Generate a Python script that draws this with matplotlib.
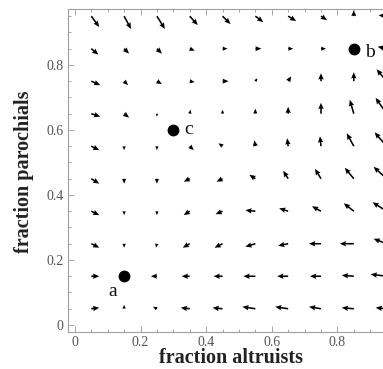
import numpy as np
import matplotlib
matplotlib.use("Agg")
import matplotlib.pyplot as plt
from matplotlib.ticker import MultipleLocator, FixedLocator

# grid of the vector field (same for both axes)
GRID = [0.05, 0.15, 0.25, 0.35, 0.45, 0.55, 0.65, 0.75, 0.85, 0.95]

# field components, rows from top (0.95) to bottom (0.05)
# units: roughly 1/328 of an axis unit; nan where a dot hides the arrow
U = [
    [8, 7, 8, 8, 8, 8, 8, 6, 0, -8],
    [7, 5, 5, 5, 5, 6, 5, 5, np.nan, -9],
    [9, 4, 5, 5, 6, 2, 3, 0, 0, -10],
    [9, 5, 0, 1, 0, 0, 0, 0, -4, -11],
    [8, 0, 0, 4, -4, -1, -1, -1, -7, -12],
    [8, 0, 0, -6, -6, -6, -5, -6, -9, -13],
    [8, 0, 0, -6, -7, -10, -9, -9, -10, -14],
    [8, 0, -1, -7, -8, -10, -10, -12, -14, -13],
    [8, np.nan, -6, -8, -9, -12, -11, -11, -12, -16],
    [8, 0, -4, -9, -10, -13, -13, -12, -12, -11],
]
V = [
    [-11, -13, -13, -9, -8, -6, -5, -4, 6, 1],
    [-6, -5, -5, -2, 0, 0, 0, 0, np.nan, 2],
    [-4, -4, -3, -1, 0, 3, 5, 8, 9, 12],
    [-3, -4, -3, 4, 4, 5, 7, 11, 14, 16],
    [-4, -4, -4, -4, 3, 6, 8, 10, 13, 14],
    [-5, -5, -5, -3, -3, 4, 8, 10, 11, 12],
    [-4, -4, -4, -4, -3, 1, 3, 5, 8, 9],
    [-4, -4, -4, -4, -4, -3, -2, 0, 0, 5],
    [0, np.nan, 0, 0, 0, 0, 0, 0, 1, 2],
    [1, 4, 2, 1, 1, 2, 2, 2, 1, 1],
]

# rest points
EQ_X = [0.15, 0.85, 0.30]
EQ_Y = [0.15, 0.85, 0.60]
EQ_LABELS = ["a", "b", "c"]

X_TICKS = [0, 0.2, 0.4, 0.6, 0.8]
X_TICK_LABELS = ["0", "0.2", "0.4", "0.6", "0.8"]
Y_TICKS = [0, 0.2, 0.4, 0.6, 0.8]
Y_TICK_LABELS = ["0", "0.2", "0.4", "0.6", "0.8"]

SERIF = ["Liberation Serif", "DejaVu Serif"]

fig = plt.figure(figsize=(3.83, 3.69), dpi=100)
ax = fig.add_axes([0.1775, 0.1003, 0.8225, 0.8753])

X, Y = np.meshgrid(GRID, GRID[::-1])
ax.quiver(X, Y, np.array(U, dtype=float), np.array(V, dtype=float),
          angles="xy", scale_units="xy", scale=328, pivot="tail",
          width=0.005, headwidth=3.4, headlength=4.0, headaxislength=3.6,
          color="black")

ax.plot(EQ_X, EQ_Y, "o", color="black", markersize=7.5, zorder=5)
label_offsets = {"a": (-8, -11), "b": (11.5, -3), "c": (11, 0)}
for x, y, lab in zip(EQ_X, EQ_Y, EQ_LABELS):
    ax.annotate(lab, (x, y), xytext=label_offsets[lab], textcoords="offset points",
                ha="center", va="center", fontsize=14, family=SERIF, color="#111111")

ax.set_xlim(-0.021, 0.939)
ax.set_ylim(-0.0215, 0.972)

ax.xaxis.set_major_locator(FixedLocator(X_TICKS))
ax.yaxis.set_major_locator(FixedLocator(Y_TICKS))
ax.set_xticklabels(X_TICK_LABELS, family=SERIF, fontsize=10, color="#555555")
ax.set_yticklabels(Y_TICK_LABELS, family=SERIF, fontsize=10, color="#555555")
ax.xaxis.set_minor_locator(MultipleLocator(0.05))
ax.yaxis.set_minor_locator(MultipleLocator(0.05))
ax.tick_params(which="both", direction="in", top=True, right=False,
               labeltop=False, color="#999999", width=0.6)
ax.tick_params(which="major", length=4, pad=3)
ax.tick_params(which="minor", length=2)

for side in ["left", "bottom", "top"]:
    ax.spines[side].set_color("#a0a0a0")
    ax.spines[side].set_linewidth(0.8)
ax.spines["right"].set_visible(False)

ax.set_xlabel("fraction altruists", family=SERIF, fontsize=14.5,
              fontweight="bold", color="#222222")
ax.set_ylabel("fraction parochials", family=SERIF, fontsize=14.5,
              fontweight="bold", color="#222222")
ax.xaxis.set_label_coords((231 - 68) / 315, -(348 - 332) / 323)
ax.yaxis.set_label_coords(-(68 - 34) / 315, (332 - 172) / 323)

fig.savefig("out.png", dpi=100)
